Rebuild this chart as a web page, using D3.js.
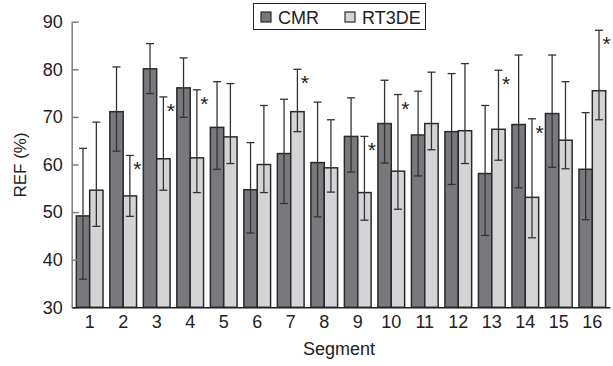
<!DOCTYPE html>
<html>
<head>
<meta charset="utf-8">
<script src="https://cdn.jsdelivr.net/npm/d3@7"></script>
<style>
    body { margin: 0; background: #fff; }
    text { font-family: "Liberation Sans", Arial, sans-serif; }
</style>
</head>
<body>
<div id="draw"></div>
<script>
var w = 613;
var h = 366;

// data
var segments = ["1", "2", "3", "4", "5", "6", "7", "8", "9", "10", "11", "12", "13", "14", "15", "16"];
var seriesNames = ["CMR", "RT3DE"];
var cmr   = [49.2, 71.1, 80.1, 76.1, 67.8, 54.7, 62.3, 60.4, 65.9, 68.6, 66.2, 66.9, 58.1, 68.4, 70.7, 59.0];
var cmrHi = [63.4, 80.5, 85.4, 82.4, 77.4, 64.6, 73.7, 73.1, 74.0, 77.7, 75.4, 79.1, 72.4, 83.0, 83.0, 70.9];
var cmrLo = [35.9, 62.8, 74.9, 69.9, 59.0, 45.6, 51.8, 49.0, 58.4, 60.3, 57.6, 55.8, 45.1, 55.1, 59.4, 48.4];
var rt    = [54.6, 53.4, 61.2, 61.4, 65.8, 60.0, 71.1, 59.3, 54.1, 58.6, 68.6, 67.1, 67.4, 53.1, 65.1, 75.5];
var rtHi  = [68.9, 61.9, 74.2, 75.7, 77.0, 72.4, 80.0, 69.4, 65.9, 74.7, 79.4, 81.2, 79.8, 69.6, 77.4, 88.2];
var rtLo  = [47.0, 49.1, 54.6, 54.1, 60.2, 54.1, 66.9, 54.2, 48.3, 50.6, 63.1, 60.2, 60.9, 44.6, 59.1, 69.4];
var significant = ["2", "3", "4", "7", "9", "10", "13", "14", "16"];
var yTicks = [30, 40, 50, 60, 70, 80, 90];

var colors = {"CMR": "#79797d", "RT3DE": "#d3d4d6"};

// build rows for drawing
var rows = [];
segments.forEach(function(s, i) {
    rows.push({seg: s, key: "CMR", v: cmr[i], hi: cmrHi[i], lo: cmrLo[i]});
    rows.push({seg: s, key: "RT3DE", v: rt[i], hi: rtHi[i], lo: rtLo[i]});
});

var svg = d3.select("#draw")
    .append("svg")
    .attr("width", w)
    .attr("height", h);

var x0 = d3.scaleBand()
    .domain(segments)
    .range([72, 610])
    .paddingInner(0.203)
    .paddingOuter(0.129);
var x1 = d3.scaleBand()
    .domain(seriesNames)
    .range([0, x0.bandwidth()]);
var y = d3.scaleLinear()
    .domain([30, 90])
    .range([307.3, 21.7]);

// bars
svg.append("g")
    .selectAll("rect")
    .data(rows)
    .enter()
    .append("rect")
    .attr("x", function(d) { return x0(d.seg) + x1(d.key); })
    .attr("y", function(d) { return y(d.v); })
    .attr("width", x1.bandwidth())
    .attr("height", function(d) { return y(30) - y(d.v); })
    .attr("fill", function(d) { return colors[d.key]; })
    .attr("stroke", "#2a2a2a")
    .attr("stroke-width", 1.5);

// error bars
var cap = 4;
var eb = svg.append("g")
    .attr("stroke", "#333")
    .attr("stroke-width", 1.3);
function cx(d) { return x0(d.seg) + x1(d.key) + x1.bandwidth() / 2; }
eb.selectAll(".stem")
    .data(rows)
    .enter()
    .append("line")
    .attr("x1", cx).attr("x2", cx)
    .attr("y1", function(d) { return y(d.hi); })
    .attr("y2", function(d) { return y(d.lo); });
eb.selectAll(".capHi")
    .data(rows)
    .enter()
    .append("line")
    .attr("x1", function(d) { return cx(d) - cap; })
    .attr("x2", function(d) { return cx(d) + cap; })
    .attr("y1", function(d) { return y(d.hi); })
    .attr("y2", function(d) { return y(d.hi); });
eb.selectAll(".capLo")
    .data(rows)
    .enter()
    .append("line")
    .attr("x1", function(d) { return cx(d) - cap; })
    .attr("x2", function(d) { return cx(d) + cap; })
    .attr("y1", function(d) { return y(d.lo); })
    .attr("y2", function(d) { return y(d.lo); });

// asterisks
svg.append("g")
    .selectAll("text")
    .data(rows.filter(function(d) { return d.key === "RT3DE" && significant.indexOf(d.seg) >= 0; }))
    .enter()
    .append("text")
    .text("*")
    .attr("x", function(d) { return cx(d) + 7.5; })
    .attr("y", function(d) { return y(d.hi) + 21; })
    .attr("text-anchor", "middle")
    .attr("font-size", "21px")
    .attr("fill", "#222");

// y axis
var yAxis = d3.axisLeft(y)
    .tickValues(yTicks)
    .tickSize(-7)
    .tickPadding(9)
    .tickSizeOuter(0);
var gy = svg.append("g")
    .attr("transform", "translate(71.7,0)")
    .call(yAxis);
gy.select(".domain").attr("stroke", "#808080").attr("stroke-width", 1.5);
gy.selectAll(".tick line").attr("stroke", "#808080").attr("stroke-width", 1.5);
gy.selectAll(".tick text")
    .attr("font-family", "Liberation Sans, Arial, sans-serif")
    .attr("font-size", "18px")
    .attr("fill", "#222");

// x axis
var xAxis = d3.axisBottom(x0)
    .tickSize(0)
    .tickPadding(8)
    .tickSizeOuter(0);
var gx = svg.append("g")
    .attr("transform", "translate(0,307.3)")
    .call(xAxis);
gx.select(".domain").attr("stroke", "#222").attr("stroke-width", 1.5);
gx.selectAll(".tick text")
    .attr("font-family", "Liberation Sans, Arial, sans-serif")
    .attr("font-size", "18px")
    .attr("fill", "#222");

// axis titles
svg.append("text")
    .text("Segment")
    .attr("x", 339)
    .attr("y", 355)
    .attr("text-anchor", "middle")
    .attr("font-size", "18px")
    .attr("fill", "#222");
svg.append("text")
    .text("REF (%)")
    .attr("transform", "translate(26,165) rotate(-90)")
    .attr("text-anchor", "middle")
    .attr("font-size", "17px")
    .attr("fill", "#222");

// legend
svg.append("rect")
    .attr("x", 253.5)
    .attr("y", 3.5)
    .attr("width", 172)
    .attr("height", 26)
    .attr("fill", "#fff")
    .attr("stroke", "#222")
    .attr("stroke-width", 1);
var legX = [261, 345];
var leg = svg.append("g")
    .selectAll("g")
    .data(seriesNames)
    .enter()
    .append("g")
    .attr("transform", function(d, i) { return "translate(" + legX[i] + ",12)"; });
leg.append("rect")
    .attr("width", 10)
    .attr("height", 10)
    .attr("fill", function(d) { return colors[d]; })
    .attr("stroke", "#2a2a2a")
    .attr("stroke-width", 1.2);
leg.append("text")
    .text(function(d) { return d; })
    .attr("x", 17)
    .attr("y", 11.5)
    .attr("font-size", "18px")
    .attr("fill", "#222");
</script>
</body>
</html>
